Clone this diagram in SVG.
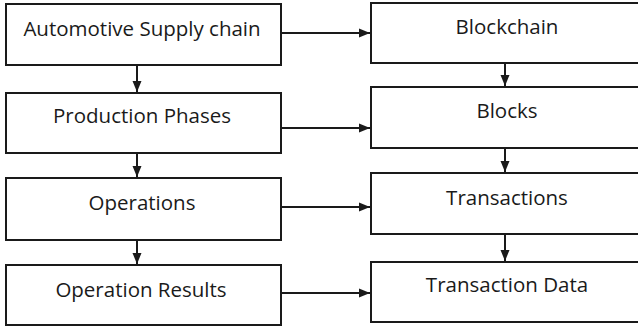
<svg xmlns="http://www.w3.org/2000/svg" width="638" height="327" viewBox="0 0 638 327">
  <style>
    .box { fill: #ffffff; stroke: #1a1a1a; stroke-width: 2; }
    .label { font-family: "Open Sans", "Noto Sans", "DejaVu Sans", sans-serif; font-size: 20.5px; fill: #1a1a1a; text-anchor: middle; }
    .edge { stroke: #1a1a1a; stroke-width: 2; fill: none; marker-end: url(#arrow); }
  </style>
  <defs>
    <marker id="arrow" markerWidth="11" markerHeight="11" refX="11" refY="5.5" orient="auto" markerUnits="userSpaceOnUse">
      <path d="M0,1 L11,5.5 L0,10 Z" fill="#1a1a1a"/>
    </marker>
  </defs>
  <rect width="638" height="327" fill="#ffffff"/>

  <!-- left column: supply chain -->
  <g id="supply-chain">
    <rect class="box" x="6" y="4" width="275" height="61"/>
    <text class="label" x="142" y="36">Automotive Supply chain</text>
  </g>
  <g id="production-phases">
    <rect class="box" x="6" y="93" width="275" height="60"/>
    <text class="label" x="142" y="123">Production Phases</text>
  </g>
  <g id="operations">
    <rect class="box" x="6" y="178" width="275" height="62"/>
    <text class="label" x="142" y="210">Operations</text>
  </g>
  <g id="operation-results">
    <rect class="box" x="6" y="265" width="275" height="60"/>
    <text class="label" x="141" y="297">Operation Results</text>
  </g>

  <!-- right column: blockchain -->
  <g id="blockchain">
    <rect class="box" x="371" y="3" width="275" height="60"/>
    <text class="label" x="507" y="34">Blockchain</text>
  </g>
  <g id="blocks">
    <rect class="box" x="371" y="87" width="275" height="61"/>
    <text class="label" x="507" y="118">Blocks</text>
  </g>
  <g id="transactions">
    <rect class="box" x="371" y="173" width="275" height="61"/>
    <text class="label" x="507" y="205">Transactions</text>
  </g>
  <g id="transaction-data">
    <rect class="box" x="371" y="262" width="275" height="60"/>
    <text class="label" x="507" y="292">Transaction Data</text>
  </g>

  <!-- connectors -->
  <g id="connectors">
    <line class="edge" x1="281" y1="33" x2="370" y2="33"/>
    <line class="edge" x1="281" y1="128" x2="370" y2="128"/>
    <line class="edge" x1="281" y1="207" x2="370" y2="207"/>
    <line class="edge" x1="281" y1="293" x2="370" y2="293"/>

    <line class="edge" x1="137" y1="65" x2="137" y2="92"/>
    <line class="edge" x1="137" y1="153" x2="137" y2="177"/>
    <line class="edge" x1="137" y1="240" x2="137" y2="264"/>

    <line class="edge" x1="505" y1="63" x2="505" y2="86"/>
    <line class="edge" x1="505" y1="148" x2="505" y2="172"/>
    <line class="edge" x1="505" y1="234" x2="505" y2="261"/>
  </g>
</svg>
